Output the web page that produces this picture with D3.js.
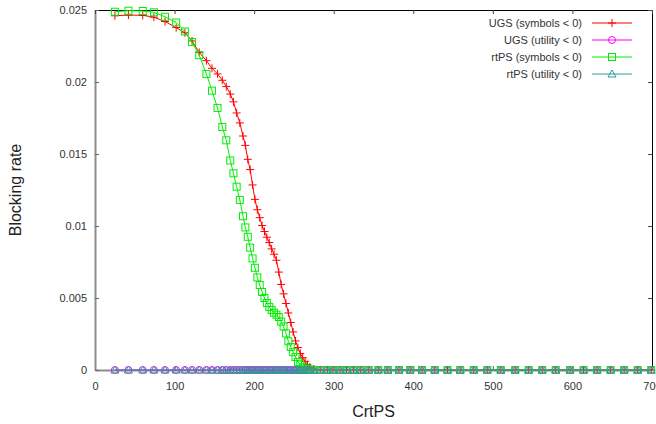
<!DOCTYPE html>
<html><head><meta charset="utf-8">
<script src="https://cdn.jsdelivr.net/npm/d3@7"></script>
<style>body{margin:0;background:#fff}svg{display:block}</style>
</head><body>
<svg id="c" width="656" height="424"></svg>
<script>
const crtps = [25,42,60,74,88,102,113,122,131,140,147,154,160,165,170,174,178,182,186,189,192,195,198,201,204,207,210,213,216,219,222,225,228,231,234,237,240,243,246,249,252,255,258,261,264,267,270,275,283,292,299,308,316,325,334,344,356,368,382,396,411,427,443,459,476,493,510,528,545,562,579,597,614,631,648,665,682,699];
const ugsSymbols = [0.02460,0.02465,0.02463,0.02450,0.02420,0.02378,0.02342,0.02285,0.02205,0.02148,0.02095,0.02056,0.02012,0.01968,0.01916,0.01862,0.01785,0.01716,0.01625,0.01560,0.01463,0.01392,0.01285,0.01185,0.01113,0.01058,0.01003,0.00962,0.00922,0.00885,0.00841,0.00804,0.00762,0.00680,0.00594,0.00529,0.00462,0.00396,0.00330,0.00264,0.00202,0.00156,0.00115,0.00085,0.00060,0.00036,0.00020,0.00007,0.00001,0,0,0,0,0,0,0,0,0,0,0,0,0,0,0,0,0,0,0,0,0,0,0,0,0,0,0,0,0];
const rtpsSymbols = [0.02488,0.02495,0.02493,0.02484,0.02453,0.02413,0.02351,0.02277,0.02186,0.02056,0.01940,0.01820,0.01688,0.01595,0.01455,0.01366,0.01273,0.01181,0.01068,0.00990,0.00925,0.00850,0.00775,0.00710,0.00643,0.00590,0.00542,0.00500,0.00465,0.00438,0.00417,0.00398,0.00384,0.00368,0.00336,0.00302,0.00254,0.00199,0.00160,0.00124,0.00090,0.00056,0.00038,0.00020,0.00010,0.00005,0.00002,0.00001,0,0,0,0,0,0,0,0,0,0,0,0,0,0,0,0,0,0,0,0,0,0,0,0,0,0,0,0,0,0];
const ugsUtility = crtps.map(() => 0);
const rtpsUtility = crtps.map(() => 0);
const seriesNames = ["UGS (symbols < 0)","UGS (utility < 0)","rtPS (symbols < 0)","rtPS (utility < 0)"];
const seriesColors = ["#ff0000","#ff00ff","#00ee00","#2e9a9a"];
const seriesMarkers = ["plus","circle","square","triangle"];
const xTicks = [0,100,200,300,400,500,600,700];
const yTicks = [0,0.005,0.01,0.015,0.02,0.025];
const yTickLabels = ["0","0.005","0.01","0.015","0.02","0.025"];

const svg = d3.select("#c");
const L=95,R=652,T=10,B=370;
const x = d3.scaleLinear().domain([0,700]).range([L,R]);
const y = d3.scaleLinear().domain([0,0.025]).range([B,T]);
const font = "'Liberation Sans', Arial, sans-serif";

// frame
svg.append("line").attr("x1",L).attr("x2",R).attr("y1",T+0.5).attr("y2",T+0.5).attr("stroke","#000");
svg.append("line").attr("x1",R+0.5).attr("x2",R+0.5).attr("y1",T).attr("y2",B).attr("stroke","#000");

const gx = svg.append("g").attr("transform",`translate(0,${B})`)
  .call(d3.axisBottom(x).tickValues(xTicks).tickFormat(d3.format("d")).tickSizeInner(-4).tickSizeOuter(0).tickPadding(12));
const gy = svg.append("g").attr("transform",`translate(${L},0)`)
  .call(d3.axisLeft(y).tickValues(yTicks).tickFormat((d,i)=>yTickLabels[i]).tickSizeInner(-4).tickSizeOuter(0).tickPadding(8));
[gx,gy].forEach(g=>{
  g.select(".domain").attr("stroke","#8c8c8c").attr("stroke-width",2);
  g.selectAll(".tick line").attr("stroke","#666");
  g.selectAll("text").attr("font-family",font).attr("font-size",11).attr("fill","#333");
});
// mirror ticks
svg.append("g").attr("transform",`translate(0,${T})`)
  .call(d3.axisTop(x).tickValues(xTicks).tickFormat("").tickSizeInner(-4).tickSizeOuter(0))
  .call(g=>{g.select(".domain").remove();g.selectAll("line").attr("stroke","#444");});
svg.append("g").attr("transform",`translate(${R},0)`)
  .call(d3.axisRight(y).tickValues(yTicks).tickFormat("").tickSizeInner(-4).tickSizeOuter(0))
  .call(g=>{g.select(".domain").remove();g.selectAll("line").attr("stroke","#444");});

svg.append("text").attr("x",(L+R)/2).attr("y",417).attr("text-anchor","middle")
  .attr("font-family",font).attr("font-size",16).attr("fill","#222").text("CrtPS");
svg.append("text").attr("transform",`translate(21,${(T+B)/2}) rotate(-90)`).attr("text-anchor","middle")
  .attr("font-family",font).attr("font-size",16).attr("fill","#222").text("Blocking rate");

function marker(g, type, cx, cy, color){
  if(type==="plus"){
    g.append("path").attr("d",`M${cx-4},${cy}H${cx+4}M${cx},${cy-4}V${cy+4}`).attr("stroke",color).attr("fill","none");
  } else if(type==="circle"){
    g.append("circle").attr("cx",cx).attr("cy",cy).attr("r",3.5).attr("stroke",color).attr("fill","none");
  } else if(type==="square"){
    g.append("rect").attr("x",cx-3.5).attr("y",cy-3.5).attr("width",7).attr("height",7).attr("stroke",color).attr("fill","none");
  } else {
    g.append("path").attr("d",`M${cx},${cy-4}L${cx+4},${cy+3}L${cx-4},${cy+3}Z`).attr("stroke",color).attr("fill","none");
  }
}

const allSeries = [ugsSymbols, ugsUtility, rtpsSymbols, rtpsUtility];
const line = d3.line().x((d,i)=>x(crtps[i])).y(d=>y(d));
allSeries.forEach((vals,k)=>{
  const g = svg.append("g");
  g.append("path").attr("d",line(vals)).attr("fill","none").attr("stroke",seriesColors[k]).attr("stroke-width",1);
  vals.forEach((v,i)=>marker(g, seriesMarkers[k], x(crtps[i]), y(v), seriesColors[k]));
});

// legend
seriesNames.forEach((name,k)=>{
  const ly = 23 + k*17;
  svg.append("text").attr("x",582).attr("y",ly+4).attr("text-anchor","end")
    .attr("font-family",font).attr("font-size",11).attr("fill","#333").text(name);
  const g = svg.append("g");
  g.append("line").attr("x1",592).attr("x2",632).attr("y1",ly).attr("y2",ly).attr("stroke",seriesColors[k]);
  marker(g, seriesMarkers[k], 612, ly, seriesColors[k]);
});
</script>
</body></html>
